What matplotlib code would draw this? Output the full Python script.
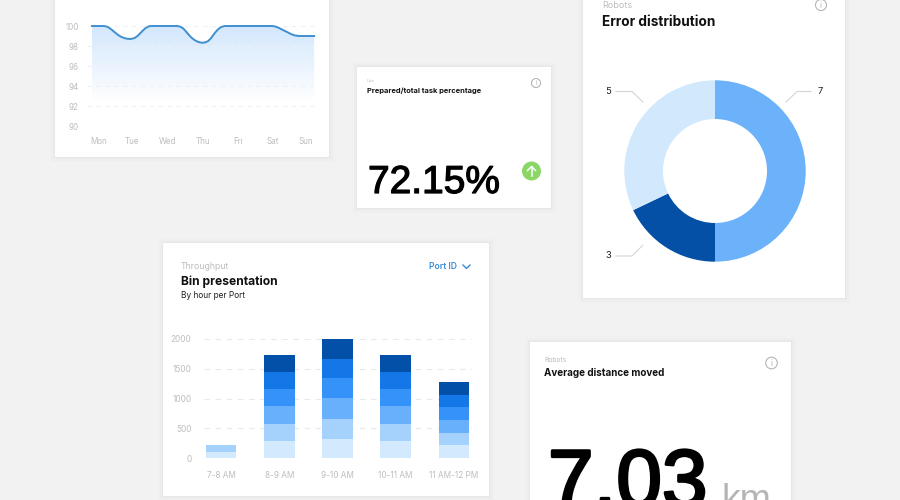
import matplotlib
matplotlib.use("Agg")
import matplotlib.pyplot as plt
import matplotlib.patheffects as pe
from matplotlib.patches import Rectangle, Circle
import numpy as np

plt.rcParams['font.family'] = ['Inter', 'DejaVu Sans']

W, H = 900, 500

# weekly line card
day_labels = ["Mon", "Tue", "Wed", "Thu", "Fri", "Sat", "Sun"]
day_pos = [0, 0.95, 1.98, 2.99, 4, 5.01, 5.96]
line_ticks = [90, 92, 94, 96, 98, 100]
line_x = [-0.2, 0.12, 0.2, 0.28, 0.37, 0.47, 0.56, 0.65, 0.75, 0.83, 0.9, 0.98, 1.04, 1.12, 1.2,
          1.28, 1.36, 1.47, 2.25, 2.33, 2.42, 2.5, 2.58, 2.66, 2.75, 2.85, 2.95, 3.05, 3.14, 3.22,
          3.29, 3.36, 3.44, 3.52, 3.62, 5.0, 5.1, 5.2, 5.3, 5.42, 5.53, 5.63, 5.75, 6.2]
line_y = [100, 100, 99.97, 99.85, 99.62, 99.33, 99.08, 98.9, 98.77, 98.72, 98.7, 98.75, 98.83, 99.03, 99.32,
          99.6, 99.84, 100, 100, 99.95, 99.78, 99.48, 99.15, 98.85, 98.6, 98.42, 98.33, 98.35, 98.48, 98.75,
          99.08, 99.4, 99.7, 99.9, 100, 100, 99.93, 99.78, 99.6, 99.4, 99.2, 99.07, 99.0, 99]

# stacked bars card
hours = ["7-8 AM", "8-9 AM", "9-10 AM", "10-11 AM", "11 AM-12 PM"]
bar_ticks = [0, 500, 1000, 1500, 2000]
port_1 = [105, 290, 319, 290, 212]
port_2 = [115, 285, 335, 285, 207]
port_3 = [0, 296, 352, 296, 224]
port_4 = [0, 290, 335, 290, 207]
port_5 = [0, 285, 330, 285, 212]
port_6 = [0, 285, 324, 285, 207]
port_series = [port_1, port_2, port_3, port_4, port_5, port_6]
port_colors = ["#d3e9fd", "#a5d2fd", "#69b0fc", "#3592f8", "#1477e8", "#0350a8"]

# donut card, labels differ from the drawn shares in the picture
error_shares = [50, 17.9, 32.1]
error_colors = ["#6cb2fb", "#0350a6", "#d2e8fc"]

GREY = "#bdbdbd"
GRID = "#eef1f4"


def px_axes(fig, left, top, right, bottom):
    ax = fig.add_axes([left / W, 1 - bottom / H, (right - left) / W, (bottom - top) / H])
    ax.patch.set_alpha(0)
    for s in ax.spines.values():
        s.set_visible(False)
    return ax


def card(ax, x0, y0, x1, y1):
    # soft shadow made of a few wider rectangles
    for grow, a in [(5, 0.006), (3.5, 0.008), (2, 0.012), (1, 0.016)]:
        ax.add_patch(Rectangle((x0 - grow, y0 - grow), x1 - x0 + 2 * grow, y1 - y0 + 2 * grow,
                               fc="black", ec="none", alpha=a))
    ax.add_patch(Rectangle((x0, y0), x1 - x0, y1 - y0, fc="white", ec="none"))


def info_icon(ax, x, y, r):
    ax.add_patch(Circle((x, y), r, fc="none", ec="#b5b5b5", lw=0.8))
    ax.text(x, y, "i", fontsize=r * 1.05, color="#b5b5b5", ha="center", va="center")


fig = plt.figure(figsize=(9, 5), dpi=100, facecolor="#f2f2f2")
bg = fig.add_axes([0, 0, 1, 1])
bg.set_xlim(0, W)
bg.set_ylim(H, 0)
bg.axis("off")

card(bg, 55, -12, 329, 157)
card(bg, 357, 67, 551, 208)
card(bg, 583, -12, 845, 298)
card(bg, 163, 243, 489, 496)
card(bg, 530, 342, 791, 515)

# line chart
ax1 = px_axes(fig, 87, 26, 316, 126)
x_lims = ((87 - 99) / 34.7, (316 - 99) / 34.7)
ax1.set_yticks(line_ticks)
ax1.set_xticks(day_pos)
ax1.set_xticklabels(day_labels)
ax1.tick_params(length=0, labelsize=5.8, labelcolor=GREY)
ax1.tick_params(axis="y", pad=6)
ax1.tick_params(axis="x", pad=8)
ax1.grid(axis="y", color=GRID, lw=0.8, ls=(0, (4, 4)))
ax1.set_axisbelow(False)
poly = ax1.fill_between(line_x, line_y, 90, color="none")
grad = np.linspace(0, 1, 100).reshape(-1, 1)
cmap = matplotlib.colors.LinearSegmentedColormap.from_list("fade", [(0, "#d3e7fd"), (0.75, "#ffffff"), (1, "#ffffff")])
im = ax1.imshow(grad, extent=(line_x[0], line_x[-1], 90, 100), aspect="auto", cmap=cmap, zorder=1)
im.set_clip_path(poly.get_paths()[0], transform=ax1.transData)
ax1.set_xlim(*x_lims)
ax1.set_ylim(90, 100)
ax1.plot(line_x, line_y, color="#3f8fd0", lw=1.4, clip_on=False, zorder=3)

# task percentage card
bg.text(367, 81.5, "Use", fontsize=3, color=GREY, va="center")
bg.text(367, 90.5, "Prepared/total task percentage", fontsize=5.4, fontweight="bold", color="#111111", va="center")
info_icon(bg, 536, 83, 4.5)
bg.text(368, 193, "72.15%", fontsize=28, family="Liberation Sans", color="black", va="baseline",
        path_effects=[pe.withStroke(linewidth=0.9, foreground="black")])
bg.add_patch(Circle((531.5, 171), 9.5, fc="#8bd765", ec="none"))
bg.plot([531.5, 531.5], [176, 166.5], color="white", lw=1.1)
bg.plot([527.5, 531.5, 535.5], [170.5, 166.5, 170.5], color="white", lw=1.1)

# donut
ax3 = px_axes(fig, 615, 71, 815, 271)
ax3.pie(error_shares, colors=error_colors, startangle=90, counterclock=False, radius=0.907,
        wedgeprops={"width": 0.907 - 0.52, "linewidth": 0})
ax3.set_xlim(-1, 1)
ax3.set_ylim(-1, 1)
bg.text(602.5, 5, "Robots", fontsize=6.5, color=GREY, va="center")
bg.text(602.5, 22, "Error distribution", fontsize=9.8, fontweight="bold", color="#111111", va="center")
info_icon(bg, 821, 5, 5.5)
bg.text(608, 92, "5", fontsize=6.8, color="#222222", ha="center", va="center")
bg.text(820, 92, "7", fontsize=6.8, color="#222222", ha="center", va="center")
bg.text(608, 256, "3", fontsize=6.8, color="#222222", ha="center", va="center")
bg.plot([616, 632, 643], [91.5, 91.5, 102], color="#d5d5d5", lw=0.8)
bg.plot([811, 797, 786], [91.5, 91.5, 102], color="#d5d5d5", lw=0.8)
bg.plot([616, 632, 643], [256, 256, 245], color="#d5d5d5", lw=0.8)

# stacked bars
ax2 = px_axes(fig, 204, 339, 472, 458)
ax2.set_xlim((204 - 221) / 58.25, (472 - 221) / 58.25)
ax2.set_ylim(0, 2000)
ax2.set_yticks(bar_ticks)
ax2.set_xticks(range(len(hours)))
ax2.set_xticklabels(hours)
ax2.tick_params(length=0, labelsize=5.9, labelcolor=GREY)
ax2.tick_params(axis="y", pad=9)
ax2.tick_params(axis="x", pad=9.5)
ax2.grid(axis="y", color="#e9e9e9", lw=0.8, ls=(0, (5, 5)))
ax2.set_axisbelow(True)
bottom = np.zeros(len(hours))
for vals, col in zip(port_series, port_colors):
    ax2.bar(range(len(hours)), vals, width=0.527, bottom=bottom, color=col, linewidth=0)
    bottom += np.array(vals)

bg.text(181, 266.5, "Throughput", fontsize=6.3, color=GREY, va="center")
bg.text(181, 281.5, "Bin presentation", fontsize=8.7, fontweight="bold", color="#111111", va="center")
bg.text(181, 295.5, "By hour per Port", fontsize=6, color="#222222", va="center")
bg.text(429, 266.5, "Port ID", fontsize=6.2, fontweight="semibold", color="#3a8fd8", va="center")
bg.plot([463, 466.5, 470], [265, 268.5, 265], color="#3a8fd8", lw=1)

# distance card
bg.text(544.5, 360.5, "Robots", fontsize=4.8, color=GREY, va="center")
bg.text(544.5, 373.5, "Average distance moved", fontsize=7.1, fontweight="bold", color="#111111", va="center")
info_icon(bg, 771.5, 363, 5.8)
bg.text(548, 507, "7.03", fontsize=59, family="Liberation Sans", color="black", va="baseline",
        path_effects=[pe.withStroke(linewidth=2, foreground="black")])
bg.text(722, 511, "km", fontsize=27, family="Liberation Sans", color="#b5b5b5", va="baseline")

fig.savefig("out.png", dpi=100, facecolor=fig.get_facecolor())
